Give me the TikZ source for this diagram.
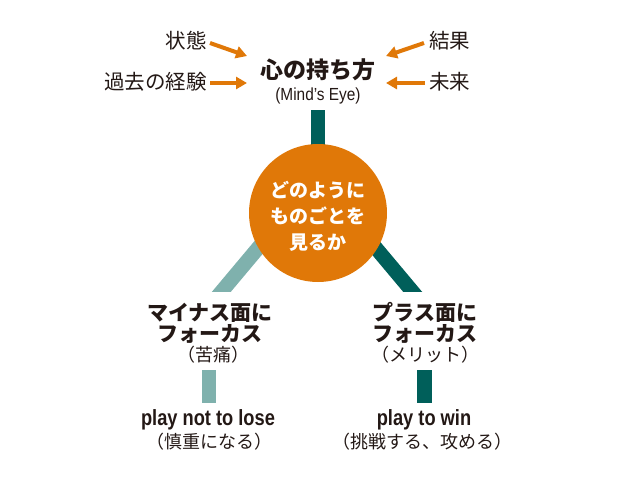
\documentclass[tikz,border=0pt]{standalone}
\usepackage{fontspec}
\setmainfont{Noto Sans CJK JP}
\newfontfamily\latinc{Liberation Sans}[FakeStretch=0.83]
\newfontfamily\latind{Liberation Sans}[FakeStretch=0.88]
\usetikzlibrary{arrows.meta}
\definecolor{myorange}{HTML}{E07808}
\definecolor{darkteal}{HTML}{005F5A}
\definecolor{lightteal}{HTML}{7FB1AD}
\definecolor{ink}{HTML}{231815}
\tikzset{
  every node/.style={text=ink},
  lbl/.style={inner sep=0pt, font=\fontsize{20.5}{24}\selectfont},
  head/.style={inner sep=0pt, align=center, font=\bfseries\fontsize{21}{21}\selectfont},
  paren/.style={inner sep=0pt, align=center, font=\fontsize{18}{20}\selectfont},
  eng/.style={inner sep=0pt, font=\latinc\bfseries\fontsize{22}{22}\selectfont},
  oarrow/.style={draw=myorange, line width=4pt, -{Triangle[length=11pt,width=12pt]}},
  darkbar/.style={draw=darkteal, line width=14.5pt},
  lightbar/.style={draw=lightteal, line width=14.5pt},
}
\begin{document}
\begin{tikzpicture}[x=1pt,y=-1pt]
\useasboundingbox (0,0) rectangle (640,480);
% top labels
\node[lbl, anchor=east] (jotai) at (207,41) {状態};
\node[lbl, anchor=east] (keiken) at (207,82) {過去の経験};
\node[lbl, anchor=west] (kekka) at (429,41) {結果};
\node[lbl, anchor=west] (mirai) at (429,82) {未来};
\node[inner sep=0pt, font=\bfseries\fontsize{23}{24}\selectfont] (mind) at (318,70) {心の持ち方};
\node[inner sep=0pt, font=\latind\fontsize{17.5}{18}\selectfont] (mindeye) at (318,96) {(Mind’s Eye)};
% arrow coordinates
\coordinate (a1s) at (210,43); \coordinate (a1e) at (247,56);
\coordinate (a2s) at (210,83); \coordinate (a2e) at (247,83);
\coordinate (a3s) at (424,43); \coordinate (a3e) at (386,56);
\coordinate (a4s) at (425,83); \coordinate (a4e) at (386,83);
\draw[oarrow] (a1s) -- (a1e);
\draw[oarrow] (a2s) -- (a2e);
\draw[oarrow] (a3s) -- (a3e);
\draw[oarrow] (a4s) -- (a4e);
% bars
\coordinate (topend) at (318,110);
\coordinate (lbot) at (212.4,302.5); \coordinate (ltop) at (286.3,214.4);
\coordinate (rbot) at (421.6,302.5); \coordinate (rtop) at (347.7,214.4);
\draw[darkbar] (topend) -- (318,200);
\begin{scope}
\clip (0,0) rectangle (640,291);
\draw[lightbar] (lbot) -- (ltop);
\draw[darkbar] (rbot) -- (rtop);
\end{scope}
% circle
\node[circle, fill=myorange, minimum size=138pt, inner sep=0pt] (circ) at (318,213) {};
\node[inner sep=0pt, align=center, text=white, font=\bfseries\fontsize{19}{26}\selectfont] (ctext) at (318,216) {どのように\\ものごとを\\見るか};
% left branch
\node[head] (minus) at (210,323) {マイナス面に\\フォーカス};
\node[paren] (kutsu) at (213,355) {（苦痛）};
\coordinate (lb1) at (209,370); \coordinate (lb2) at (209,403);
\draw[lightbar] (lb1) -- (lb2);
\node[eng] (lose) at (208,420) {play not to lose};
\node[paren] (shincho) at (209,442) {（慎重になる）};
% right branch
\node[head] (plus) at (425,323) {プラス面に\\フォーカス};
\node[paren] (merit) at (425,355) {（メリット）};
\coordinate (rb1) at (424.5,370); \coordinate (rb2) at (424.5,403);
\draw[darkbar] (rb1) -- (rb2);
\node[eng] (win) at (424,420) {play to win};
\node[paren] (chosen) at (422,442) {（挑戦する、攻める）};
\end{tikzpicture}
\end{document}
